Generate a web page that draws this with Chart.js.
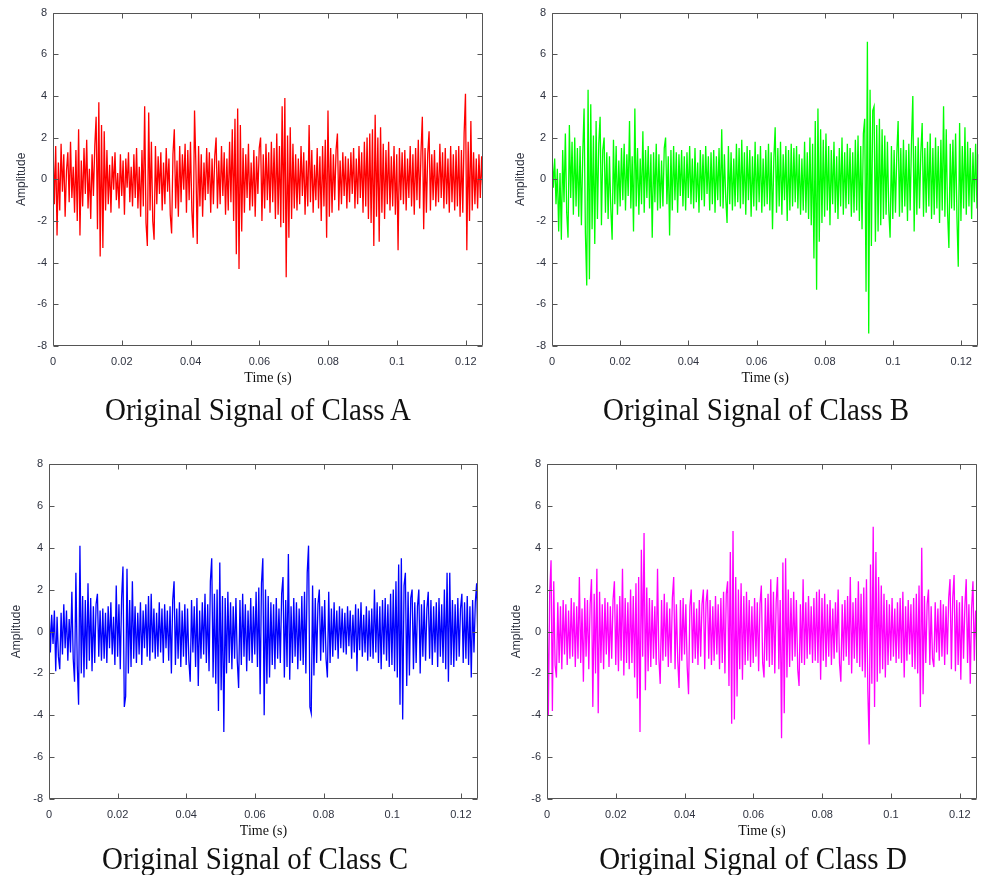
<!DOCTYPE html>
<html><head><meta charset="utf-8">
<script src="https://cdn.jsdelivr.net/npm/chart.js@4/dist/chart.umd.min.js"></script>
<style>
html,body{margin:0;padding:0;background:#fff;}
body{width:981px;height:875px;position:relative;overflow:hidden;}
canvas{position:absolute;}
.cap{position:absolute;font-family:"Liberation Serif","Times New Roman",serif;font-size:29px;line-height:1;color:#111;white-space:nowrap;transform:translate(-50%,-50%) scale(1,1.1);}
</style></head><body>
<canvas id="cA"></canvas><canvas id="cB"></canvas><canvas id="cC"></canvas><canvas id="cD"></canvas>
<div class="cap" style="left:258px;top:410px">Original Signal of Class A</div>
<div class="cap" style="left:756px;top:410px">Original Signal of Class B</div>
<div class="cap" style="left:255px;top:859px">Original Signal of Class C</div>
<div class="cap" style="left:753px;top:859px">Original Signal of Class D</div>
<script>
// ---- data ----
const DURATION = 0.125;            // seconds shown on the time axis
const X_TICKS = [0, 0.02, 0.04, 0.06, 0.08, 0.1, 0.12];
const X_TICK_LABELS = ['0', '0.02', '0.04', '0.06', '0.08', '0.1', '0.12'];
const Y_TICKS = [-8, -6, -4, -2, 0, 2, 4, 6, 8];
const Y_TICK_LABELS = ['-8', '-6', '-4', '-2', '0', '2', '4', '6', '8'];

const classA = [
 1.7,-1.2,1.6,-2.7,0.8,-1.5,1.7,-0.6,1.2,-1.8,0.4,1.3,-1.1,1.8,-0.9,0.6,-1.6,1.4,-2.0,2.4,
 -2.7,0.9,-1.3,1.5,-0.7,1.9,-1.4,0.5,-1.9,1.2,-0.8,1.6,3.0,-2.4,3.7,-3.7,2.6,-3.3,2.3,-1.5,
 1.4,-1.2,0.7,-1.6,1.1,-0.5,1.3,-1.0,0.3,-1.4,1.2,-0.8,0.9,-1.7,1.0,-0.4,1.3,-1.1,0.6,-1.3,
 1.2,-0.9,1.5,-1.4,0.6,-1.8,1.4,-1.3,3.5,-2.1,-3.2,3.2,-1.5,1.8,-2.0,-2.9,1.6,-1.2,1.1,-0.7,
 1.3,-1.5,0.8,-1.2,1.5,-0.6,1.0,-1.7,-2.6,1.2,2.4,-1.4,0.9,-1.8,1.6,-1.1,1.2,-0.5,1.7,-1.6,
 1.4,-1.0,1.8,-1.5,-2.8,3.3,0.7,-3.1,1.6,-1.3,1.2,-1.8,0.8,-1.0,1.5,-0.7,1.3,-1.6,1.0,-1.2,
 1.1,2.0,-1.4,0.9,-1.2,1.6,-0.8,1.3,-1.7,1.0,-1.5,1.8,-1.1,2.4,-2.0,2.9,-3.6,3.4,-4.3,2.6,
 -2.5,1.5,-1.6,1.2,-0.9,1.7,-1.5,0.8,-1.3,1.4,-1.8,1.1,-0.7,1.5,2.0,-2.0,1.2,-1.4,1.7,-1.0,
 1.3,-1.6,1.8,-1.1,1.5,-1.9,2.2,-1.7,1.6,-2.3,3.5,-2.1,3.9,-4.7,2.1,-2.8,2.5,-1.9,1.7,-1.4,
 1.2,-1.5,1.0,-1.2,1.6,-0.8,1.3,-1.7,0.9,-1.3,2.6,-1.1,1.4,-1.6,0.7,-1.0,1.5,-1.4,1.1,-2.0,
 1.6,-1.3,1.9,-2.8,3.3,-1.8,1.5,-1.6,1.2,-1.0,1.4,2.2,-1.5,0.9,-1.2,1.3,-0.8,1.1,-1.4,1.0,
 -1.1,1.3,-0.7,1.5,-1.4,1.0,-1.2,1.6,-0.9,1.3,-1.6,1.8,-1.3,2.0,-1.9,2.2,-2.1,2.4,-3.2,3.1,
 -1.8,2.0,-3.0,2.5,-1.6,1.7,-1.9,1.4,-1.2,1.8,-1.5,1.1,-1.3,1.6,-1.7,1.2,-3.4,1.5,-1.0,1.3,
 -1.2,1.4,-1.5,1.0,-0.9,1.6,-1.3,1.2,-1.7,1.5,-1.0,1.9,-1.4,1.3,3.0,-2.4,1.5,-1.6,1.2,2.3,
 -1.5,1.2,-1.0,1.4,-1.3,0.8,-1.1,1.7,-0.9,1.3,-1.4,1.5,-1.2,1.0,-1.6,1.6,-1.1,1.2,-1.5,1.4,
 -1.3,1.6,-1.8,1.4,-1.6,2.2,4.1,-3.4,1.8,-2.0,2.8,-1.5,1.3,-1.2,1.0,-1.4,1.2,-0.9,1.1,-0.8
];
const classB = [
 1.3,-0.4,1.0,-1.2,0.5,-2.5,0.3,-2.9,1.4,-1.1,2.2,-1.6,-2.8,2.6,-0.9,1.8,-1.7,2.0,-1.3,1.5,
 -1.8,1.6,-2.2,1.2,3.4,-2.6,-5.1,4.3,-4.8,3.6,-2.4,2.1,-3.1,2.8,-1.9,1.7,3.0,-2.2,1.4,2.0,
 -1.6,1.3,-1.9,1.1,-1.4,-2.9,1.9,-1.2,1.6,-1.7,0.9,-1.3,1.5,-1.0,1.7,-1.5,1.2,-0.8,2.8,-1.4,
 1.1,-2.5,3.4,-1.3,1.5,-1.7,1.0,-1.2,2.3,-1.6,1.4,-0.9,1.6,-1.4,1.2,-2.8,1.3,-1.1,1.7,-1.5,
 1.2,-1.4,0.9,-1.3,1.5,2.0,-1.2,1.1,-2.7,1.4,-1.5,1.6,-1.0,1.3,-1.6,1.2,-0.8,1.4,-1.3,1.1,
 -1.5,1.3,-0.9,1.6,-1.2,1.0,-1.4,1.5,-1.1,0.8,-1.6,1.4,-1.0,1.2,-1.3,1.6,-0.7,1.1,-1.5,1.3,
 -1.2,1.4,-1.6,1.1,-1.0,1.5,-1.3,2.4,-1.4,1.2,-0.9,-2.1,1.6,-1.2,1.3,-1.5,1.0,-1.3,1.7,-1.1,
 1.5,-1.4,1.9,-1.2,1.3,-1.7,1.6,-1.0,1.4,-1.8,1.1,-1.3,1.8,-1.5,1.2,-1.1,1.6,-1.6,1.0,-1.3,
 1.4,-1.2,1.7,-1.5,1.3,-2.4,1.0,2.5,-1.6,1.5,-1.3,1.8,-1.7,1.2,-1.0,1.6,-2.0,1.4,-1.5,1.7,
 -1.3,1.5,-1.1,1.6,-1.4,1.2,-1.7,1.0,-1.5,1.8,-1.6,1.3,-1.9,2.0,-2.2,1.7,-3.8,2.8,-5.3,3.4,
 -3.0,2.4,-2.1,1.9,-1.8,2.2,-1.5,1.6,-2.2,1.4,-1.2,1.8,-1.6,1.1,-1.9,1.5,-1.3,2.0,-1.7,1.3,
 -1.4,1.7,-1.2,1.5,-1.8,1.3,-1.6,1.9,-1.5,2.1,-2.0,1.6,-2.4,2.2,2.9,-5.4,6.6,-7.4,4.3,-3.2,
 3.3,3.5,-3.0,2.6,-2.5,2.9,-2.2,2.4,-1.9,2.1,-1.7,1.8,-1.5,-2.8,1.6,-1.9,1.4,-1.6,1.2,2.8,
 -1.8,1.5,-1.6,1.9,-1.3,1.4,-2.0,1.7,-1.5,1.8,4.0,-2.5,1.6,-1.7,2.0,-1.4,1.3,2.7,-1.8,1.5,
 -1.6,1.8,-1.3,2.2,-1.9,1.5,-1.7,2.0,-1.4,1.6,-2.1,1.9,-1.5,3.5,-1.8,2.4,-1.6,-3.3,1.7,-1.4,
 1.9,-1.5,2.2,-1.8,-4.2,2.7,-2.0,1.6,-1.4,2.5,-1.7,1.8,-1.3,1.5,-1.9,1.3,-1.1,1.7,-1.4,1.2
];
const classC = [
 1.4,-1.0,0.8,-0.6,1.0,-1.9,0.7,-1.2,-1.8,0.9,-1.1,1.3,-0.8,1.0,-1.4,0.6,-1.0,1.9,-1.3,-2.4,
 2.8,-1.6,-3.5,4.1,-2.0,1.7,-2.2,1.5,-1.8,2.3,-1.4,1.6,-1.9,1.2,-1.5,1.3,1.8,-1.2,1.0,-1.4,
 1.1,-1.3,0.9,-1.5,1.2,-0.8,1.4,-1.1,0.7,-1.6,2.2,-1.2,1.3,-1.8,1.6,3.1,-3.6,-3.1,3.0,-2.0,
 1.5,-1.7,2.4,-1.3,1.2,-1.5,0.9,-1.1,1.4,-1.6,1.0,-0.8,1.3,-1.2,1.7,-1.4,1.8,-1.0,1.1,-1.3,
 0.9,-1.2,1.4,-1.0,1.1,-1.5,1.3,-0.8,1.0,-1.4,1.2,-2.0,1.5,2.4,-1.6,1.1,-1.3,1.4,-1.7,1.0,
 -1.2,1.3,-1.6,1.1,-1.4,-2.4,1.5,-1.0,1.2,-1.7,1.6,-2.6,1.0,-1.3,1.4,-1.1,1.8,-1.5,1.3,-1.9,
 2.4,3.5,-2.2,1.8,-2.5,2.0,-3.8,3.3,-2.8,1.7,-4.8,1.6,-2.0,1.9,-1.5,1.4,-1.8,1.2,-1.3,1.6,
 -1.4,-2.7,1.5,-1.6,1.8,-1.2,1.3,-1.9,1.0,-1.4,1.6,-1.5,1.2,-1.1,1.9,-1.7,2.1,-3.0,2.3,3.5,
 -4.0,2.0,-2.5,1.7,-2.2,1.4,-1.6,1.3,-1.8,1.6,-1.3,1.1,-1.5,1.8,2.6,-2.2,1.5,-1.7,3.7,-2.3,
 1.2,-1.5,1.6,-1.2,1.4,-1.8,1.1,-1.4,1.7,-1.6,1.9,-2.0,2.8,4.1,-3.6,-3.9,2.2,-2.1,1.6,-1.5,
 1.3,2.0,-1.4,1.2,-1.0,1.5,-1.3,-2.2,1.9,-1.5,1.1,-1.2,1.4,-0.9,1.0,-1.3,1.2,-0.8,1.1,-1.0,
 0.9,-1.1,1.2,-0.7,1.0,-1.3,0.8,-1.0,1.3,-1.9,1.1,-0.9,1.4,-1.2,0.8,-1.0,1.2,-1.4,1.0,-1.2,
 1.1,-1.3,2.0,-1.0,1.4,-1.5,1.2,-1.8,1.5,-1.1,1.6,-1.4,1.3,-1.7,1.8,-1.6,2.0,-1.9,2.4,-2.2,
 3.2,-3.5,3.5,-4.2,2.2,2.8,-2.6,1.9,-2.1,1.6,2.0,-1.8,1.4,-1.5,1.2,2.0,-2.0,1.3,-1.2,1.5,
 -1.4,1.1,1.9,-1.3,1.5,-1.6,1.2,-1.0,1.4,-1.7,1.6,-1.2,1.3,-1.5,2.0,-1.8,2.8,-2.4,2.8,-1.6,
 1.5,-1.7,1.3,-1.4,1.6,-1.2,1.1,1.8,-1.5,1.4,-1.3,1.7,-1.6,1.2,-2.2,1.5,-1.0,1.4,2.3,-0.9
];
const classD = [
 2.0,-4.0,1.8,3.4,-3.8,2.4,-1.6,-2.2,1.4,-1.5,1.2,-1.8,1.5,-1.1,1.3,-1.6,1.0,-1.3,1.6,-1.2,
 1.4,-1.7,1.2,-1.3,2.6,-1.5,1.1,-2.4,1.6,-1.2,1.5,-1.8,1.3,2.5,-3.6,1.8,-2.0,3.0,-3.9,1.9,
 -1.5,1.3,-1.8,1.6,-1.1,1.4,-1.7,1.2,-1.3,1.5,2.4,-1.6,1.3,-1.9,1.7,-1.4,3.0,-2.1,1.6,-1.5,
 1.4,-1.8,2.0,-1.5,1.7,-2.2,2.3,-3.2,2.6,-4.8,3.9,-1.2,4.7,-2.8,2.1,-1.9,1.6,-1.7,1.5,-1.3,
 1.2,-1.6,3.0,-1.3,-2.5,1.5,-1.4,1.8,-1.2,1.4,-1.7,1.1,-1.5,1.6,2.6,-1.8,1.3,-1.4,-2.7,1.5,
 -1.4,1.6,-1.1,1.3,-1.7,-3.0,1.2,2.0,-1.5,1.4,-1.3,1.1,-1.6,1.5,-1.2,1.3,2.0,-1.8,1.4,2.0,
 -1.3,1.5,-1.6,1.2,-1.4,1.7,-1.1,1.3,-1.8,1.6,-1.5,1.9,-2.0,1.8,2.4,-2.6,3.8,-4.4,4.8,-4.2,
 2.6,-3.1,2.0,-1.8,2.3,-2.3,1.7,-1.6,1.9,-1.4,1.5,-1.7,1.2,-1.5,1.6,-1.2,1.4,-1.9,1.3,2.2,
 -1.5,-2.2,1.6,-1.4,1.8,-1.7,2.5,-1.6,1.9,-2.0,1.4,2.6,-1.8,1.5,-5.1,3.3,-3.9,3.5,-2.2,2.0,
 -1.7,1.6,-1.4,1.9,-1.2,1.5,-1.8,-2.6,1.3,-1.5,2.5,-1.6,1.4,-1.3,1.7,-1.1,1.2,-1.5,1.6,-1.4,
 1.9,-1.5,2.0,-2.3,1.6,-1.4,1.8,-1.7,1.3,-1.2,1.5,-1.6,1.1,-1.3,1.4,-1.0,2.0,-1.5,-2.4,1.3,
 -1.4,1.5,-1.2,1.7,-1.6,2.6,-2.0,1.4,-1.3,1.6,-1.5,2.4,-1.7,1.8,-1.9,2.1,-2.2,2.5,-2.8,-5.4,
 3.2,-2.5,5.0,-3.6,3.8,-2.4,2.6,-2.0,2.2,-1.8,1.8,-2.2,1.5,-1.6,1.3,-1.4,1.6,-1.2,1.1,-1.5,
 1.4,-1.3,1.6,-1.5,1.9,-2.2,1.2,-1.4,1.5,-1.1,1.3,-1.7,1.6,-1.8,1.8,-2.0,2.2,-3.6,4.0,-3.0,
 1.7,-1.5,1.3,2.0,-1.6,1.2,-1.3,-1.7,1.4,-1.0,1.1,-1.4,1.5,-1.2,1.3,-1.6,1.2,-1.1,1.6,2.5,
 -1.8,1.6,2.7,-1.9,1.5,-1.6,1.4,-2.3,1.7,-1.3,1.2,2.5,-1.5,1.3,-2.5,1.1,2.4,-1.4,1.0,-0.9
];

// ---- layout (page pixels) ----
const PANELS = [
  {id:'cA', data:classA, color:'#ff0000', canvas:[0,0,490,395],   area:[53,12,483,346],  yTitlePad:14, xTitlePad:8},
  {id:'cB', data:classB, color:'#00ff00', canvas:[500,0,481,395], area:[552,12,980,346], yTitlePad:13, xTitlePad:8},
  {id:'cC', data:classC, color:'#0000ff', canvas:[0,450,490,395], area:[49,464,478,799], yTitlePad:9,  xTitlePad:5},
  {id:'cD', data:classD, color:'#ff00ff', canvas:[500,450,481,395], area:[547,464,977,799], yTitlePad:9, xTitlePad:5}
];

const framePlugin = {
  id: 'frame',
  afterDatasetsDraw(chart) {
    const {ctx, chartArea: a, scales: {x, y}} = chart;
    const L = Math.round(a.left) + 0.5, R = Math.round(a.right) - 0.5;
    const T = Math.round(a.top) + 0.5, B = Math.round(a.bottom) - 0.5;
    ctx.save();
    ctx.strokeStyle = '#555555';
    ctx.lineWidth = 1;
    ctx.beginPath();
    ctx.rect(L, T, R - L, B - T);
    x.ticks.forEach(t => {
      const px = Math.round(x.getPixelForValue(t.value)) + 0.5;
      ctx.moveTo(px, B); ctx.lineTo(px, B - 5);
      ctx.moveTo(px, T); ctx.lineTo(px, T + 5);
    });
    y.ticks.forEach(t => {
      const py = Math.round(y.getPixelForValue(t.value)) + 0.5;
      ctx.moveTo(L, py); ctx.lineTo(L + 5, py);
      ctx.moveTo(R, py); ctx.lineTo(R - 5, py);
    });
    ctx.stroke();
    ctx.restore();
  }
};

Chart.defaults.font.family = '"Liberation Sans", Arial, sans-serif';

PANELS.forEach(p => {
  const cv = document.getElementById(p.id);
  const [cx, cy, cw, ch] = p.canvas;
  const [al, at, ar, ab] = p.area;
  cv.width = cw; cv.height = ch;
  cv.style.left = cx + 'px'; cv.style.top = cy + 'px';
  cv.style.width = cw + 'px'; cv.style.height = ch + 'px';
  const dt = DURATION / (p.data.length - 1);
  const pts = p.data.map((v, i) => ({x: i * dt, y: v}));
  new Chart(cv, {
    type: 'line',
    data: {datasets: [{data: pts, borderColor: p.color, borderWidth: 1.3, pointRadius: 0, tension: 0, fill: false}]},
    options: {
      responsive: false, animation: false, devicePixelRatio: 1,
      layout: {padding: {left: 0, top: at - cy, right: cx + cw - ar, bottom: 0}},
      plugins: {legend: {display: false}, tooltip: {enabled: false}},
      scales: {
        x: {
          type: 'linear', min: 0, max: DURATION,
          grid: {display: false, drawTicks: false}, border: {display: false},
          afterBuildTicks: s => { s.ticks = X_TICKS.map(v => ({value: v})); },
          afterFit: s => { s.height = cy + ch - ab; },
          ticks: {padding: 9, color: '#2f3340', font: {size: 11}, maxRotation: 0, autoSkip: false,
                  callback: (v, i) => X_TICK_LABELS[i]},
          title: {display: true, text: 'Time (s)', color: '#111',
                  font: {family: '"Liberation Serif", "Times New Roman", serif', size: 14},
                  padding: {top: 0, bottom: p.xTitlePad}}
        },
        y: {
          type: 'linear', min: -8, max: 8,
          grid: {display: false, drawTicks: false}, border: {display: false},
          afterBuildTicks: s => { s.ticks = Y_TICKS.map(v => ({value: v})); },
          afterFit: s => { s.width = al - cx; },
          ticks: {padding: 6, color: '#2f3340', font: {size: 11}, autoSkip: false,
                  callback: (v, i) => Y_TICK_LABELS[i]},
          title: {display: true, text: 'Amplitude', color: '#2f3340', font: {size: 12},
                  padding: {top: p.yTitlePad, bottom: 0}}
        }
      }
    },
    plugins: [framePlugin]
  });
});
</script>
</body></html>
